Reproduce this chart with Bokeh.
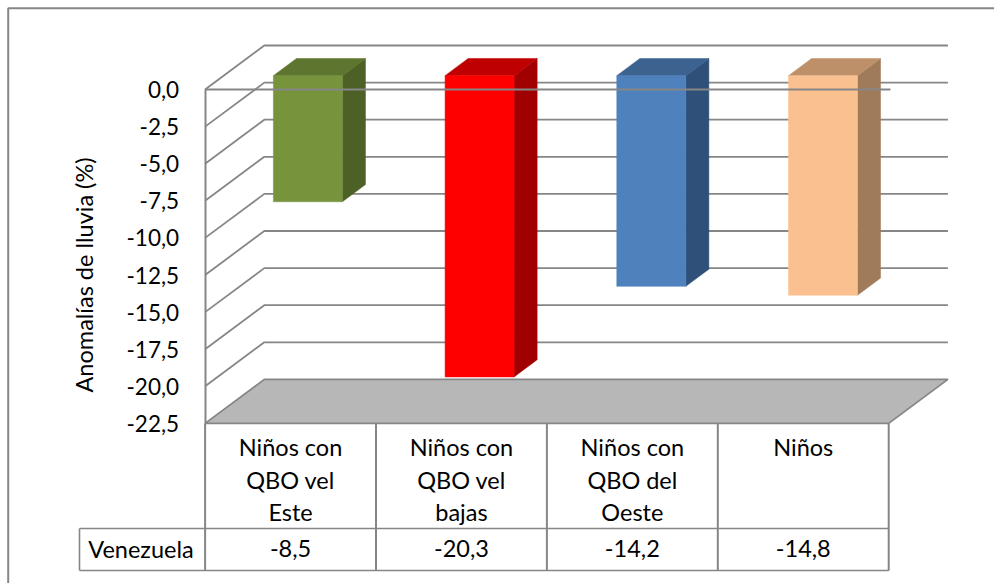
from bokeh.plotting import figure
from bokeh.models import LinearAxis, FixedTicker, Range1d
from bokeh.core.properties import value
from bokeh.embed import file_html
from bokeh.resources import INLINE

# ---- data ----
categories = [["Niños con", "QBO vel", "Este"],
              ["Niños con", "QBO vel", "bajas"],
              ["Niños con", "QBO del", "Oeste"],
              ["Niños"]]
series_name = "Venezuela"
series_values = [-8.5, -20.3, -14.2, -14.8]
value_labels = ["-8,5", "-20,3", "-14,2", "-14,8"]
tick_values = [0.0, -2.5, -5.0, -7.5, -10.0, -12.5, -15.0, -17.5, -20.0, -22.5]
tick_labels = ["0,0", "-2,5", "-5,0", "-7,5", "-10,0", "-12,5", "-15,0", "-17,5", "-20,0", "-22,5"]
y_title = "Anomalías de lluvia (%)"
front_colors = ["#77933C", "#FF0000", "#4F81BD", "#FAC090"]
top_colors = ["#5D752E", "#BF0000", "#3C6290", "#BE9069"]
side_colors = ["#4D6126", "#A00000", "#2F5078", "#A07B5A"]

# ---- layout ----
W, H = 994, 583
PX_X0, PX_Y0 = 204.6, 89.0       # page pixel of category 0 / value 0
CAT_PX, VAL_PX = 170.9, 14.84    # pixels per category / per unit
DEPTH_X = 59.2 / CAT_PX          # wall depth, in category units
DEPTH_Y = 44.0 / VAL_PX          # wall depth, in value units
BAR_W = 69.0 / CAT_PX
BAR_D0, BAR_D1 = 0.315, 0.705    # bar depth span as a fraction of the wall
BAR_X = 0.3995                   # front-left corner of the first bar, in category units
BAR_STEP = 1.0047                # bar spacing, in category units
FONT = value("Lato")
FS = "23.5px"
GRAY = "#868686"

def X(px):
    return (px - PX_X0) / CAT_PX

def Y(py):
    return (PX_Y0 - py) / VAL_PX

def proj(x, v, d=0.0):
    return x + d * DEPTH_X, v + d * DEPTH_Y

p = figure(width=W, height=H, output_backend="svg", toolbar_location=None,
           x_range=Range1d(X(0), X(W)), y_range=Range1d(Y(H), Y(0)),
           x_axis_location=None, y_axis_location=None, min_border=0,
           outline_line_color=None, background_fill_color="white",
           border_fill_color="white")
p.grid.visible = False

# outer frame: only the top and left edges are inside the picture
p.line([X(7.7), X(7.7), X(W)], [Y(H), Y(7.7), Y(7.7)], line_color=GRAY, line_width=2)

# back wall gridlines
n = len(categories)
for t in tick_values[:-1]:
    x0, y0 = proj(0, t)
    x1, y1 = proj(0, t, 1)
    x2, y2 = proj(n, t, 1)
    p.line([x0, x1, x2], [y0, y1, y2], line_color=GRAY, line_width=1.8)

# floor
lo = tick_values[-1]
fx = [proj(0, lo)[0], proj(0, lo, 1)[0], proj(n, lo, 1)[0], proj(n, lo)[0]]
fy = [proj(0, lo)[1], proj(0, lo, 1)[1], proj(n, lo, 1)[1], proj(n, lo)[1]]
p.patch(fx, fy, fill_color="#B7B7B7", line_color=GRAY, line_width=1.8)

# bars
for i, v in enumerate(series_values):
    xl = i * BAR_STEP + BAR_X - BAR_D0 * DEPTH_X
    xr = xl + BAR_W
    fl = proj(xl, 0, BAR_D0)
    fr = proj(xr, 0, BAR_D0)
    bl = proj(xl, 0, BAR_D1)
    br = proj(xr, 0, BAR_D1)
    frb = proj(xr, v, BAR_D0)
    brb = proj(xr, v, BAR_D1)
    flb = proj(xl, v, BAR_D0)
    p.patch([fr[0], br[0], brb[0], frb[0]], [fr[1], br[1], brb[1], frb[1]],
            fill_color=side_colors[i], line_color=side_colors[i], line_width=0.5)
    p.patch([fl[0], bl[0], br[0], fr[0]], [fl[1], bl[1], br[1], fr[1]],
            fill_color=top_colors[i], line_color=top_colors[i], line_width=0.5)
    p.patch([fl[0], fr[0], frb[0], flb[0]], [fl[1], fr[1], frb[1], flb[1]],
            fill_color=front_colors[i], line_color=front_colors[i], line_width=0.5)

# zero line over the bars
p.line([0, n + 0.01], [0, 0], line_color=GRAY, line_width=2)

# y axis, placed inside the frame at category 0
ax = LinearAxis(fixed_location=0, bounds=(tick_values[-1], tick_values[0]),
                ticker=FixedTicker(ticks=tick_values),
                major_label_overrides=dict(zip(tick_values, tick_labels)),
                major_tick_line_color=None, minor_tick_line_color=None,
                major_tick_in=0, major_tick_out=0,
                axis_line_color=GRAY, axis_line_width=2,
                major_label_standoff=26,
                major_label_text_font="Lato", major_label_text_font_size="22.5px",
                major_label_text_color="black")
p.add_layout(ax, "left")
p.text([X(83.5)], [Y(274.5)], text=[y_title], angle=1.5708, text_align="center",
       text_baseline="middle", text_font=FONT, text_font_size=FS, text_color="black")

# data table
yt, ym, yb = Y(423), Y(528), Y(570)
xl = X(79)
p.line([xl, n], [ym, ym], line_color=GRAY, line_width=1.6)
p.line([xl, n], [yb, yb], line_color=GRAY, line_width=1.6)
p.line([xl, xl], [ym, yb], line_color=GRAY, line_width=1.6)
for i in range(n + 1):
    p.line([i, i], [yt, yb], line_color=GRAY, line_width=2)

row_py = [446.5, 479, 511.5]
for i, lines in enumerate(categories):
    for j, s in enumerate(lines):
        p.text([i + 0.5], [Y(row_py[j])], text=[s], text_align="center", text_baseline="middle",
               text_font=FONT, text_font_size=FS, text_color="black")
    p.text([i + 0.5], [Y(548)], text=[value_labels[i]], text_align="center", text_baseline="middle",
           text_font=FONT, text_font_size=FS, text_color="black")
p.text([X(140.5)], [Y(548)], text=[series_name], text_align="center", text_baseline="middle",
       text_font=FONT, text_font_size=FS, text_color="black")

open("out.html", "w").write(file_html(p, INLINE))
